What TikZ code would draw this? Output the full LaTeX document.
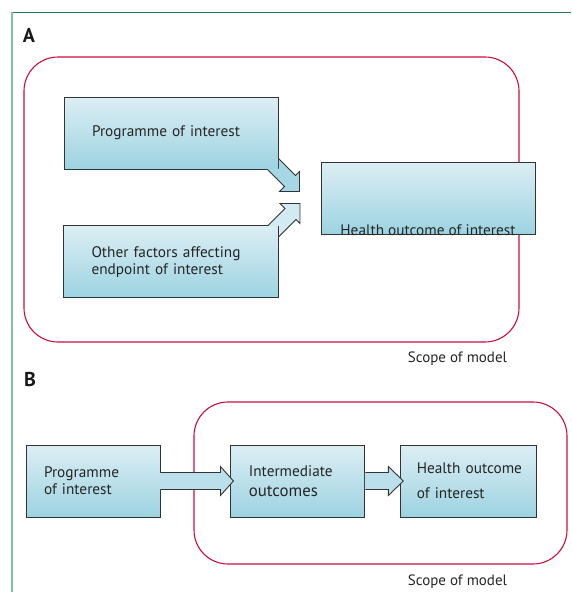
\documentclass[tikz,border=0pt]{standalone}
\usepackage{fontspec}
\setmainfont{PT Sans}
\usetikzlibrary{positioning,calc}

\definecolor{boxtop}{HTML}{DCEEF4}
\definecolor{boxbot}{HTML}{9CD3E1}
\definecolor{scopered}{HTML}{C8103E}
\definecolor{framedark}{HTML}{1B7A45}
\definecolor{framelight}{HTML}{82C2A4}

\begin{document}
\begin{tikzpicture}[x=1pt, y=-1pt,
  box/.style={draw=black!80, line width=0.9pt, top color=boxtop, bottom color=boxbot,
    minimum height=72pt, align=left, font=\fontsize{15.3}{17}\selectfont, text=black!85, inner ysep=0pt},
  scopebox/.style={draw=scopered, line width=1.1pt, rounded corners=34pt},
  flowline/.style={draw=black!80, line width=0.9pt, line join=miter},
  panel/.style={font=\fontsize{20}{20}\selectfont\bfseries, text=black!90},
  note/.style={font=\fontsize{15}{17}\selectfont, text=black!85, anchor=base}]
\useasboundingbox (0,0) rectangle (571,592);
% frame
\draw[framedark, line width=1pt] (12,12.5) -- (571,12.5);
\draw[framelight, line width=2pt] (11.5,12) -- (11.5,592);

% panel A
\node[panel] (pa) at (29,35) {A};
\draw[scopebox] (24,57) rectangle (519,342);
\node[note] (scopea) at (457.5,362) {Scope of model};
\node[box, text width=158pt, inner xsep=28pt] (prog) at (171,133) {Programme of interest};
\node[box, text width=159pt, inner xsep=28pt, below=56pt of prog] (oth) {Other factors affecting\\endpoint of interest};
\node[box, minimum width=214pt, label={[note, font=\fontsize{15.3}{17}\selectfont, yshift=-1pt]south:Health outcome of interest}] (health) at (428,198) {};
% diagonal arrows
\fill[boxbot!85!boxtop] ($(prog.south east)+(0.5,-11)$) -- ($(prog.south east)+(17,6)$) -- ($(prog.south east)+(21,2)$)
  -- ($(prog.south east)+(21,22)$) -- ($(prog.south east)+(1,22)$) -- ($(prog.south east)+(6,17)$)
  -- ($(prog.south east)+(-11,-0.5)$) -- ($(prog.south east)+(0.5,-0.5)$) -- cycle;
\draw[flowline] ($(prog.south east)+(0,-11)$) -- ($(prog.south east)+(17,6)$) -- ($(prog.south east)+(21,2)$)
  -- ($(prog.south east)+(21,22)$) -- ($(prog.south east)+(1,22)$) -- ($(prog.south east)+(6,17)$)
  -- ($(prog.south east)+(-11,0)$);
\fill[boxtop!85!boxbot] ($(oth.north east)+(0.5,11)$) -- ($(oth.north east)+(17,-6)$) -- ($(oth.north east)+(21,-2)$)
  -- ($(oth.north east)+(21,-22)$) -- ($(oth.north east)+(1,-22)$) -- ($(oth.north east)+(6,-17)$)
  -- ($(oth.north east)+(-11,0.5)$) -- ($(oth.north east)+(0.5,0.5)$) -- cycle;
\draw[flowline] ($(oth.north east)+(0,11)$) -- ($(oth.north east)+(17,-6)$) -- ($(oth.north east)+(21,-2)$)
  -- ($(oth.north east)+(21,-22)$) -- ($(oth.north east)+(1,-22)$) -- ($(oth.north east)+(6,-17)$)
  -- ($(oth.north east)+(-11,0)$);

% panel B
\node[panel] (pb) at (30,379) {B};
\draw[scopebox] (194,402) rectangle (567,564);
\node[note] (scopeb) at (457.5,585) {Scope of model};
\node[box, text width=98pt, inner xsep=18pt] (bprog) at (93,481) {Programme\\of interest};
\node[box, text width=98pt, inner xsep=18pt, right=70pt of bprog] (inter) {Intermediate\\[3pt]{\fontsize{16.8}{17}\selectfont outcomes}};
\node[box, text width=104pt, inner xsep=16pt, right=35pt of inter] (bhealth) {\mbox{Health outcome}\\[8pt]of interest};
% block arrows
\fill[boxtop!50!boxbot] ($(bprog.east)+(-0.5,-8.5)$) -- ($(inter.west)+(-10,-8.5)$) -- ($(inter.west)+(-10,-14.5)$)
  -- ($(inter.west)+(3,0)$) -- ($(inter.west)+(-10,14.5)$) -- ($(inter.west)+(-10,8.5)$) -- ($(bprog.east)+(-0.5,8.5)$) -- cycle;
\draw[flowline] ($(bprog.east)+(0,-8.5)$) -- ($(inter.west)+(-10,-8.5)$) -- ($(inter.west)+(-10,-14.5)$)
  -- ($(inter.west)+(3,0)$) -- ($(inter.west)+(-10,14.5)$) -- ($(inter.west)+(-10,8.5)$) -- ($(bprog.east)+(0,8.5)$);
\fill[boxtop!50!boxbot] ($(inter.east)+(-0.5,-8.5)$) -- ($(bhealth.west)+(-12,-8.5)$) -- ($(bhealth.west)+(-12,-14.5)$)
  -- ($(bhealth.west)+(3,0)$) -- ($(bhealth.west)+(-12,14.5)$) -- ($(bhealth.west)+(-12,8.5)$) -- ($(inter.east)+(-0.5,8.5)$) -- cycle;
\draw[flowline] ($(inter.east)+(0,-8.5)$) -- ($(bhealth.west)+(-12,-8.5)$) -- ($(bhealth.west)+(-12,-14.5)$)
  -- ($(bhealth.west)+(3,0)$) -- ($(bhealth.west)+(-12,14.5)$) -- ($(bhealth.west)+(-12,8.5)$) -- ($(inter.east)+(0,8.5)$);
\end{tikzpicture}
\end{document}
